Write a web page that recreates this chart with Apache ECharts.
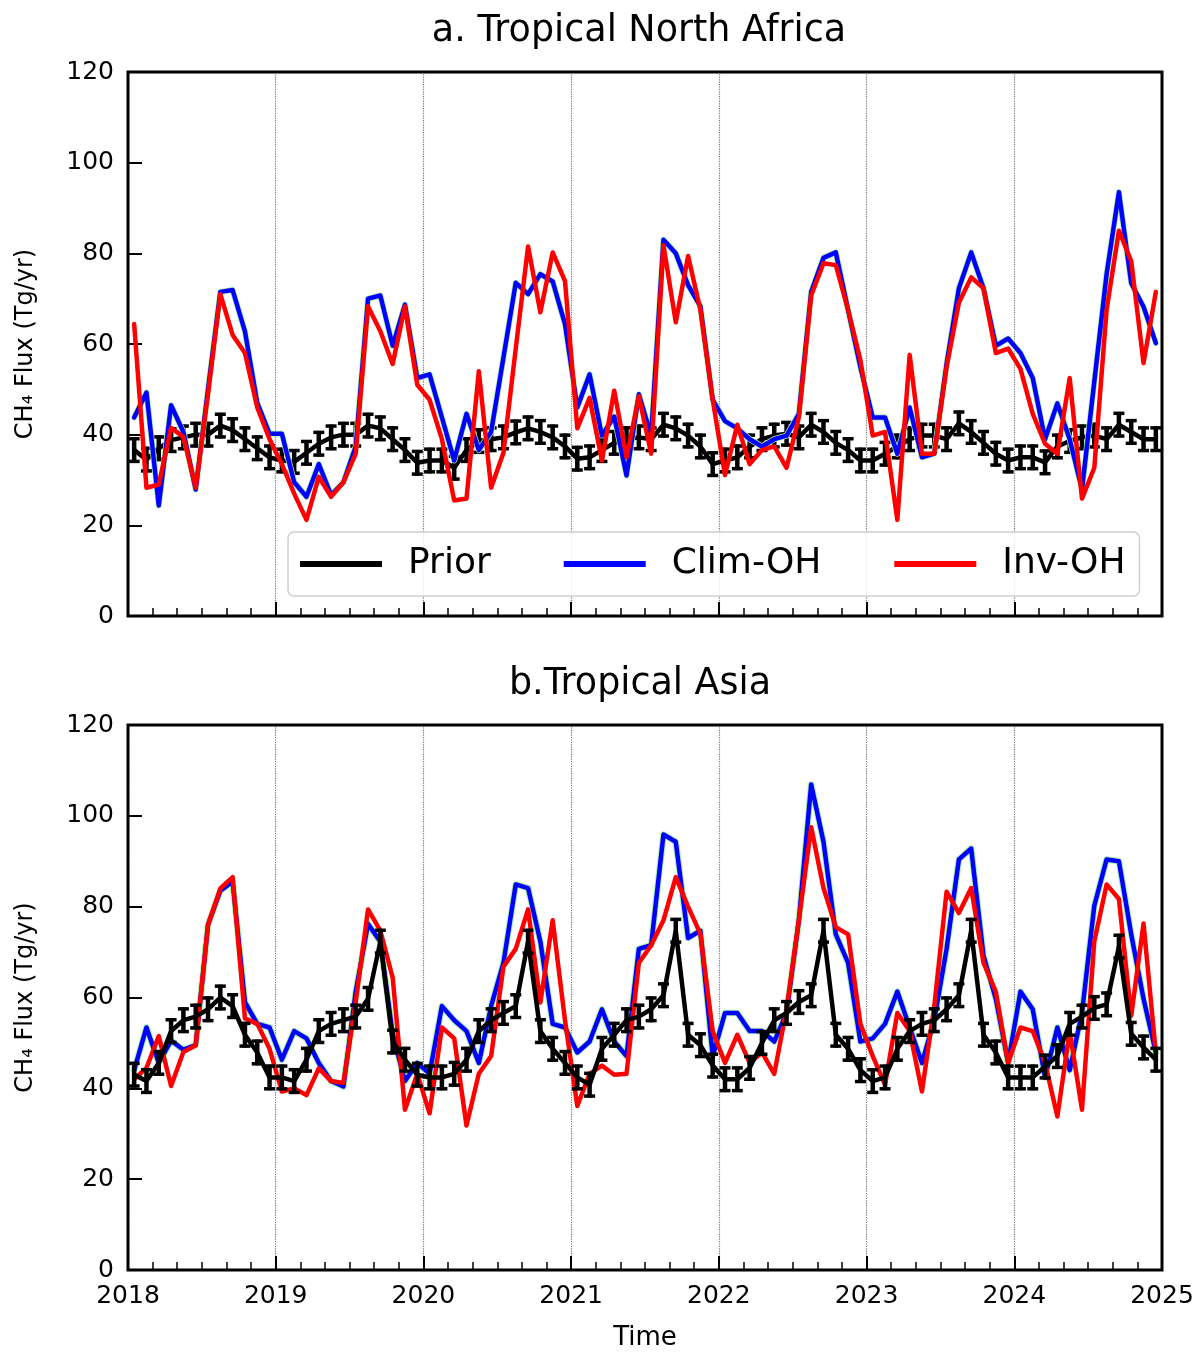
<!DOCTYPE html>
<html>
<head>
<meta charset="utf-8">
<script src="https://cdn.jsdelivr.net/npm/echarts@6/dist/echarts.min.js"></script>
<style>
  html, body { margin: 0; padding: 0; background: #fff; }
  #chart { width: 1200px; height: 1354px; }
</style>
</head>
<body>
<div id="chart"></div>
<script>
// monthly values, Jan 2018 .. Dec 2024 (84 months), plotted at mid-month
var startYear = 2018;
var nMonths = 84;
var yMax = 120;
var yStep = 20;
var priorErr = 2.5;

// a. Tropical North Africa
var aPrior = [
  36.6, 34.5, 37, 38.8, 39.4, 40, 40, 42, 41, 39, 37, 35,
  34.3, 34, 36, 38, 39.4, 40, 40, 42, 41.4, 39, 36.6, 33.8,
  34.3, 34.3, 32.7, 36.6, 38.6, 39, 39.4, 40.5, 41.4, 40.6, 39.4, 37.4,
  34.7, 35, 36.6, 38.2, 39, 39.4, 39, 42.2, 41.4, 39.8, 37.4, 33.5,
  34.3, 35, 37.4, 39, 39.8, 40.2, 39.4, 42.2, 40.6, 38.2, 36.6, 34.3,
  34.3, 35.8, 37.4, 39, 39.8, 39.8, 39, 42.5, 40.6, 38.2, 35.8, 34.3,
  35, 35, 33.9, 37.4, 38.6, 39.4, 39.8, 39, 42.2, 40.6, 39, 39
];
var aClim = [
  43.8, 49.3, 24.4, 46.5, 40.6, 27.9, 50, 71.5, 71.9, 62.8, 47, 40.2,
  40.2, 29.5, 26.3, 33.5, 26.7, 29.5, 37.4, 70, 70.7, 59.6, 68.7, 52.5,
  53.3, 43.8, 34.3, 44.6, 36.6, 40.6, 57, 73.5, 71, 75.4, 73.8, 64.4,
  46, 53.3, 39.8, 44, 31, 48.9, 39.8, 83, 80, 73, 68.3, 47.7,
  43, 41.4, 39, 37.4, 39, 39.8, 44.6, 71.5, 79, 80.2, 67.5, 54.9,
  43.8, 43.8, 35.8, 46, 35, 35.8, 55.6, 72.3, 80.2, 72.3, 59.6, 61.2,
  58, 52.5, 39, 46.9, 39, 27.9, 51.7, 75.4, 93.5, 73.4, 68.2, 60.2
];
var aInv = [
  64.4, 28.3, 29, 41.5, 39.5, 28.3, 49, 71, 62, 58, 46, 39,
  33.5, 27, 21.2, 30.7, 26.3, 29.5, 35.8, 68.3, 62.8, 55.6, 68.3, 51,
  47.7, 39, 25.5, 25.9, 54, 28.3, 36, 59, 81.5, 67, 80.2, 73.9,
  41.4, 48.1, 34.3, 49.7, 35, 48.5, 35.8, 81.8, 64.8, 79.4, 67.5, 47.7,
  31.1, 42.2, 33.5, 36.6, 37.4, 32.7, 43.8, 70.7, 77.8, 77.4, 67.5, 56.4,
  39.8, 40.6, 21.2, 57.6, 35.8, 35.8, 54.9, 69.1, 74.7, 72.3, 58, 59,
  54.5, 44.6, 38, 35.8, 52.5, 25.9, 32.7, 67.5, 85, 78.3, 55.8, 71.5
];

// b. Tropical Asia
var bPrior = [
  43, 41.6, 45.6, 52.6, 55, 55.8, 57.4, 60, 58.1, 51.8, 47.9, 42.4,
  42.4, 41.6, 46.3, 52.6, 54.2, 55, 55.8, 59.7, 72.3, 50.3, 46.3, 43,
  42.4, 42.4, 43.2, 46.3, 52.6, 55, 56.6, 58.1, 72.3, 52.6, 48.7, 45.6,
  42.4, 40.8, 48.7, 51.8, 55, 55.8, 57.4, 60.5, 74.7, 51.8, 49.5, 45,
  42, 42, 44.5, 50, 55, 56.6, 59, 60.5, 74.7, 51.8, 48.7, 44,
  41.6, 42.4, 48.7, 52.6, 54.2, 55, 57.4, 60.5, 74.7, 51.8, 47.9, 42.4,
  42.4, 42.4, 44.8, 47.1, 54.2, 55.8, 57.7, 58.5, 71.2, 52, 49, 46.3
];
var bClim = [
  44, 53.4, 45.6, 50.5, 48.5, 49.5, 76, 83.5, 85.5, 59, 54.2, 53.4,
  46.3, 52.6, 51, 45.6, 41.6, 40.4, 61.3, 76.2, 72.3, 52, 41.6, 45.6,
  43.2, 58.1, 55, 52.6, 45.6, 58.1, 67.6, 84.9, 84.1, 72.3, 54.2, 53.4,
  47.9, 50.3, 57.4, 50.3, 47.1, 70.7, 71.5, 95.9, 94.3, 73.1, 74.7, 47.1,
  56.6, 56.6, 52.6, 52.6, 50.3, 56.6, 77, 106.9, 94.3, 73.9, 67.6, 50.3,
  51, 54.2, 61.3, 53.4, 45.6, 55, 70.7, 90.4, 92.8, 69.2, 59.7, 45.6,
  61.3, 57.4, 42.4, 53.4, 44, 56.6, 80.2, 90.4, 90, 73.9, 59.7, 47.9
];
var bInv = [
  42, 44.5, 51.5, 40.5, 48, 49.5, 76, 84, 86.5, 55.4, 54.2, 48.7,
  39.3, 40, 38.5, 44.4, 41.6, 41.2, 59, 79.4, 74.7, 64.4, 35.3, 43.2,
  34.5, 53.4, 51, 31.8, 43.2, 47.1, 66.8, 70.7, 79.4, 58.9, 77, 55,
  36.1, 43.2, 45, 43, 43.2, 67.6, 71.5, 77, 86.5, 80, 74, 52.6,
  45.6, 51.8, 45.6, 47.9, 43.2, 57.4, 77, 97.5, 84.1, 75.5, 73.9, 54.2,
  47.1, 40.8, 56.6, 52.6, 39.3, 58.1, 83.3, 78.6, 84.1, 67.6, 61.3, 45.6,
  53.4, 52.6, 45.6, 33.8, 52.6, 35.3, 72.3, 84.9, 81.7, 56, 76.3, 47.8
];

var months = [];
for (var i = 0; i < nMonths; i++) months.push(i + 0.5);

function pts(arr) { return arr.map(function(v, i) { return [months[i], v]; }); }
function errs(arr) { return arr.map(function(v, i) { return [months[i], v - priorErr, v + priorErr]; }); }

var font = 'DejaVu Sans';

function errorBars(params, api) {
  var x = api.value(0);
  var lo = api.coord([x, api.value(1)]);
  var hi = api.coord([x, api.value(2)]);
  var cap = 5.5;
  var bar = { stroke: '#000', lineWidth: 4.5 };
  var st = { stroke: '#000', lineWidth: 3.5 };
  return {
    type: 'group',
    children: [
      { type: 'line', shape: { x1: lo[0], y1: lo[1] + 1.5, x2: hi[0], y2: hi[1] - 1.5 }, style: bar },
      { type: 'line', shape: { x1: lo[0] - cap, y1: lo[1], x2: lo[0] + cap, y2: lo[1] }, style: st },
      { type: 'line', shape: { x1: hi[0] - cap, y1: hi[1], x2: hi[0] + cap, y2: hi[1] }, style: st }
    ]
  };
}

function xAxis(idx, showLabels) {
  return {
    type: 'value', gridIndex: idx, min: 0, max: nMonths, interval: 12,
    axisLine: { show: false },
    axisTick: { show: true, inside: true, length: 14, lineStyle: { color: '#000', width: 2 } },
    minorTick: { show: true, splitNumber: 6, length: 8, lineStyle: { color: '#000', width: 1.5 } },
    splitLine: { show: true, lineStyle: { color: '#777', type: 'dotted', width: 1.2 } },
    axisLabel: {
      show: showLabels, color: '#000', fontFamily: font, fontSize: 25, margin: 14,
      formatter: function(v) { return String(startYear + v / 12); }
    },
    name: showLabels ? 'Time' : '',
    nameLocation: 'middle', nameGap: 55,
    nameTextStyle: { color: '#000', fontFamily: font, fontSize: 26 }
  };
}

function yAxis(idx) {
  return {
    type: 'value', gridIndex: idx, min: 0, max: yMax, interval: yStep,
    axisLine: { show: false },
    axisTick: { show: true, inside: true, length: 14, lineStyle: { color: '#000', width: 2 } },
    splitLine: { show: false },
    axisLabel: { color: '#000', fontFamily: font, fontSize: 25, margin: 14 },
    name: 'CH\u2084 Flux (Tg/yr)',
    nameLocation: 'middle', nameGap: 90, nameRotate: 90,
    nameTextStyle: { color: '#000', fontFamily: font, fontSize: 24 }
  };
}

function lineSeries(name, data, color, width, idx, z) {
  return {
    name: name, type: 'line', data: pts(data), xAxisIndex: idx, yAxisIndex: idx,
    showSymbol: false, symbol: 'none', silent: true, z: z,
    lineStyle: { color: color, width: width, join: 'round', cap: 'round' },
    itemStyle: { color: color }
  };
}

function errSeries(data, idx, z) {
  return {
    name: 'Prior err', type: 'custom', data: errs(data), xAxisIndex: idx, yAxisIndex: idx,
    renderItem: errorBars, encode: { x: 0, y: [1, 2] }, silent: true, z: z
  };
}

var chart = echarts.init(document.getElementById('chart'), null, { renderer: 'canvas' });
chart.setOption({
  animation: false,
  backgroundColor: '#fff',
  graphic: [
    { type: 'text', x: 639, y: 32, style: { text: 'a. Tropical North Africa', fontFamily: font, fontSize: 36.5, fill: '#000', align: 'center', verticalAlign: 'middle' } },
    { type: 'text', x: 640, y: 685, style: { text: 'b.Tropical Asia', fontFamily: font, fontSize: 36.5, fill: '#000', align: 'center', verticalAlign: 'middle' } }
  ],
  legend: {
    data: ['Prior', 'Clim-OH', 'Inv-OH'],
    left: 288, top: 532,
    icon: 'rect', itemWidth: 82, itemHeight: 6, itemGap: 73,
    padding: [12, 14, 12, 12],
    backgroundColor: 'rgba(255,255,255,0.85)',
    borderColor: '#cfcfcf', borderWidth: 1.5, borderRadius: 6,
    textStyle: { color: '#000', fontFamily: font, fontSize: 36, lineHeight: 40, padding: [0, 0, 0, 21] },
    selectedMode: false, z: 20
  },
  grid: [
    { left: 128, top: 72, width: 1034, height: 544, show: true, borderColor: '#000', borderWidth: 3, backgroundColor: 'transparent', z: 10 },
    { left: 128, top: 725, width: 1034, height: 545, show: true, borderColor: '#000', borderWidth: 3, backgroundColor: 'transparent', z: 10 }
  ],
  xAxis: [xAxis(0, false), xAxis(1, true)],
  yAxis: [yAxis(0), yAxis(1)],
  series: [
    lineSeries('Prior', aPrior, '#000', 4.5, 0, 2),
    errSeries(aPrior, 0, 3),
    lineSeries('Clim band', aClim, '#a8f0a8', 6, 0, 4),
    lineSeries('Clim-OH', aClim, '#0000ff', 4.5, 0, 5),
    lineSeries('Inv-OH', aInv, '#ff0000', 4.5, 0, 6),

    lineSeries('Clim band', bClim, '#a8f0a8', 6.5, 1, 2),
    lineSeries('Clim-OH', bClim, '#0000ff', 4.5, 1, 3),
    lineSeries('Inv-OH', bInv, '#ff0000', 4.5, 1, 4),
    lineSeries('Prior', bPrior, '#000', 4.5, 1, 5),
    errSeries(bPrior, 1, 6)
  ]
});
window.addEventListener('resize', function() { chart.resize(); });
</script>
</body>
</html>
